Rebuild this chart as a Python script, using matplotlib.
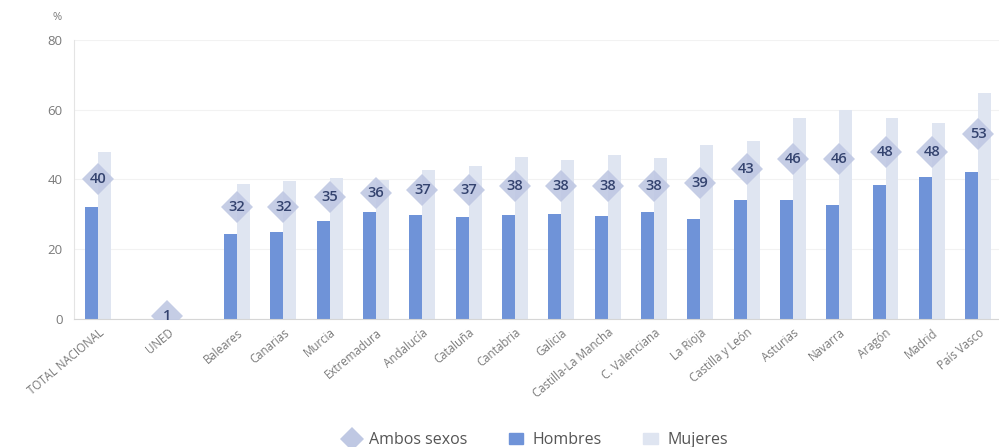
import numpy as np
import matplotlib
matplotlib.use('Agg')
import matplotlib.pyplot as plt
from matplotlib.lines import Line2D
from matplotlib.patches import Patch

plt.rcParams['font.family'] = ['Open Sans', 'DejaVu Sans']

categorias = ['TOTAL NACIONAL', 'UNED', 'Baleares', 'Canarias', 'Murcia',
              'Extremadura', 'Andalucía', 'Cataluña', 'Cantabria', 'Galicia',
              'Castilla-La Mancha', 'C. Valenciana', 'La Rioja',
              'Castilla y León', 'Asturias', 'Navarra', 'Aragón', 'Madrid',
              'País Vasco']
ambos = [40, 1, 32, 32, 35, 36, 37, 37, 38, 38, 38, 38, 39, 43, 46, 46, 48, 48, 53]
hombres = [32.1, np.nan, 24.4, 25.1, 28.0, 30.8, 29.9, 29.2, 29.9, 30.1,
           29.6, 30.6, 28.6, 34.0, 34.0, 32.8, 38.5, 40.6, 42.0]
mujeres = [47.8, np.nan, 38.7, 39.7, 40.4, 39.9, 42.8, 43.8, 46.5, 45.7,
           46.9, 46.2, 49.8, 51.0, 57.7, 59.8, 57.5, 56.2, 64.9]

C_HOM = '#6f93d8'
C_MUJ = '#dfe5f1'
C_AMB = '#bfc8e3'
C_TXT = '#34436f'
C_GREY = '#7a7a7a'

# total, hueco, UNED, hueco, comunidades
x = np.array([0, 1.5] + list(np.arange(3, 3 + len(categorias) - 2)), dtype=float)
w = 0.28

fig = plt.figure(figsize=(9.99, 4.47), dpi=100)
ax = fig.add_axes([0.074, 0.286, 0.926, 0.625])

ax.bar(x - w / 2, hombres, w, color=C_HOM, zorder=2)
ax.bar(x + w / 2, mujeres, w, color=C_MUJ, zorder=2)
ax.plot(x, ambos, linestyle='none', marker='D', markersize=16,
        color=C_AMB, alpha=0.9, markeredgewidth=0, zorder=3)
for xi, v in zip(x, ambos):
    ax.text(xi, v, str(v), ha='center', va='center', fontsize=10.5,
            color=C_TXT, fontweight='semibold', zorder=4)

ax.set_xlim(-0.52, 19.45)
ax.set_ylim(0, 80)
ax.set_yticks([0, 20, 40, 60, 80])
ax.yaxis.grid(True, color='#f2f2f2', linewidth=0.8, zorder=0)
ax.tick_params(axis='y', length=0, labelsize=9.5, labelcolor=C_GREY, pad=8)
ax.tick_params(axis='x', length=0, pad=5)
ax.set_xticks(x)
ax.set_xticklabels(categorias, rotation=40, ha='right',
                   rotation_mode='anchor', fontsize=8.3, color=C_GREY)
for s in ['top', 'right']:
    ax.spines[s].set_visible(False)
ax.spines['left'].set_color('#e4e4e4')
ax.spines['bottom'].set_color('#d6d6d6')
ax.text(-0.013, 1.07, '%', transform=ax.transAxes, fontsize=8,
        color=C_GREY, ha='right')

handles = [
    Line2D([], [], linestyle='none', marker='D', markersize=12,
           color=C_AMB, markeredgewidth=0),
    Patch(color=C_HOM),
    Patch(color=C_MUJ),
]
fig.legend(handles, ['Ambos sexos', 'Hombres', 'Mujeres'], loc='lower center',
           bbox_to_anchor=(0.537, -0.035), ncol=3, frameon=False, fontsize=11.5,
           labelcolor='#555555', handlelength=0.9, handleheight=0.7,
           columnspacing=2.6, handletextpad=0.6)

fig.savefig('out.png', dpi=100)
